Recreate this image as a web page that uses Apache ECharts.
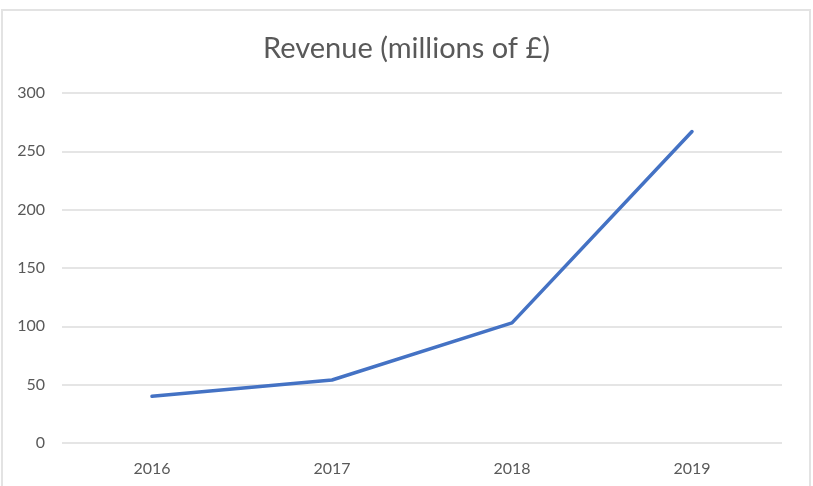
<!DOCTYPE html>
<html>
<head>
<meta charset="utf-8">
<script src="https://cdn.jsdelivr.net/npm/echarts@6/dist/echarts.min.js"></script>
<style>
  html, body { margin: 0; padding: 0; background: #ffffff; }
  #chart { width: 813px; height: 486px; }
</style>
</head>
<body>
<div id="chart"></div>
<script>
// Annual revenue, millions of pounds
const years = ['2016', '2017', '2018', '2019'];
const revenue = [40, 54, 103, 267];
const yTicks = [0, 50, 100, 150, 200, 250, 300];

const chart = echarts.init(document.getElementById('chart'), null, { renderer: 'canvas' });

const labelColor = '#595959';
const fontFamily = 'Lato, "Open Sans", sans-serif';

chart.setOption({
  animation: false,
  backgroundColor: '#ffffff',
  title: {
    text: 'Revenue (millions of £)',
    left: 'center',
    top: 29,
    textStyle: { color: labelColor, fontSize: 29, fontWeight: 'normal', fontFamily: fontFamily }
  },
  graphic: [{
    type: 'rect',
    shape: { x: 2, y: 10, width: 808, height: 480 },
    style: { fill: 'none', stroke: '#e3e3e3', lineWidth: 2 },
    silent: true
  }],
  grid: { left: 62, right: 31, top: 93, bottom: 43 },
  xAxis: {
    type: 'category',
    data: years,
    boundaryGap: true,
    axisLine: { show: false },
    axisTick: { show: false },
    axisLabel: { color: labelColor, fontSize: 16, fontFamily: fontFamily, margin: 18 }
  },
  yAxis: {
    type: 'value',
    min: yTicks[0],
    max: yTicks[yTicks.length - 1],
    interval: yTicks[1] - yTicks[0],
    axisLine: { show: false },
    axisTick: { show: false },
    axisLabel: { color: labelColor, fontSize: 16, fontFamily: fontFamily, margin: 17 },
    splitLine: { lineStyle: { color: '#dcdcdc', width: 1.5 } }
  },
  series: [{
    type: 'line',
    data: revenue,
    symbol: 'none',
    lineStyle: { color: '#4472C4', width: 3.5, cap: 'round', join: 'round' }
  }]
});
</script>
</body>
</html>
